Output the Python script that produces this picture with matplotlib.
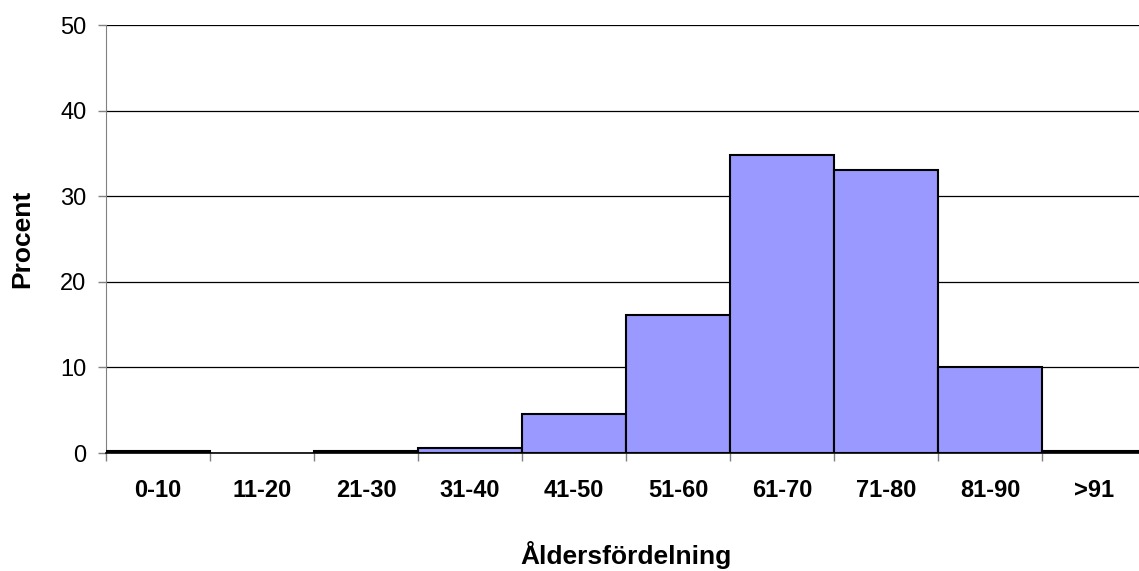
import matplotlib.pyplot as plt
import numpy as np

plt.rcParams["font.family"] = ["Liberation Sans", "DejaVu Sans"]

# Age groups and share of patients (%)
age_groups = ["0-10", "11-20", "21-30", "31-40", "41-50",
              "51-60", "61-70", "71-80", "81-90", ">91"]
percent = [0.2, 0.0, 0.2, 0.6, 4.6, 16.1, 34.8, 33.1, 10.0, 0.2]
y_ticks = [0, 10, 20, 30, 40, 50]

fig = plt.figure(figsize=(11.39, 5.71), dpi=100)
ax = fig.add_axes([106 / 1139, 1 - 453 / 571, 1040 / 1139, 428 / 571])

x = np.arange(len(age_groups))
widths = [1.5 if v > 0 else 0 for v in percent]
ax.bar(x, percent, width=1.0, color="#9999ff", edgecolor="black",
       linewidth=widths, zorder=3)

ax.set_xlim(-0.5, len(age_groups) - 0.5)
ax.set_ylim(0, 50)
ax.set_yticks(y_ticks)
ax.yaxis.grid(True, color="black", linewidth=0.9, zorder=0)

# category labels centred, tick marks on the bar boundaries
ax.set_xticks(x)
ax.set_xticklabels(age_groups, fontsize=17, fontweight="bold")
ax.tick_params(axis="x", which="major", length=0, pad=19)
ax.set_xticks(np.arange(-0.5, len(age_groups)), minor=True)
ax.tick_params(axis="x", which="minor", length=6, width=1, color="#808080",
               direction="out")
ax.tick_params(axis="y", labelsize=17, length=6, width=1, color="#808080",
               pad=8)

for side in ("top", "right"):
    ax.spines[side].set_visible(False)
ax.spines["left"].set_color("#808080")
ax.spines["bottom"].set_color("black")
ax.spines["bottom"].set_linewidth(1.2)
ax.spines["bottom"].set_zorder(4)

ax.set_ylabel("Procent", fontsize=19, fontweight="bold", labelpad=19)
ax.set_xlabel("Åldersfördelning", fontsize=19, fontweight="bold", labelpad=28)

fig.savefig("out.png", dpi=100)
